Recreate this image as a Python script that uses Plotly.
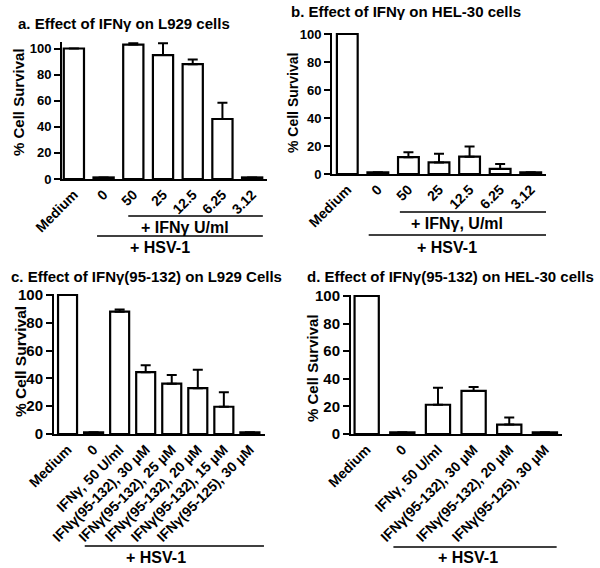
import plotly.graph_objects as go

W, H = 600, 568

# ---------------- data ----------------
cats_a = ["Medium", "0", "50", "25", "12.5", "6.25", "3.12"]
vals_a = [100, 1.2, 103, 95, 88, 46, 1.2]
err_a = [0, 0, 1, 9, 3.5, 12.5, 0]

cats_b = ["Medium", "0", "50", "25", "12.5", "6.25", "3.12"]
vals_b = [100, 1.2, 12, 8.3, 12.4, 3.6, 1.2]
err_b = [0, 0, 3.6, 6.2, 7.3, 3.5, 0]

cats_c = ["Medium", "0", "IFNγ, 50 U/ml", "IFNγ(95-132), 30 µM", "IFNγ(95-132), 25 µM",
          "IFNγ(95-132), 20 µM", "IFNγ(95-132), 15 µM", "IFNγ(95-125), 30 µM"]
vals_c = [100, 1.2, 88, 44.5, 36.2, 33, 19.6, 1.2]
err_c = [0, 0, 1.5, 5, 6.2, 13.2, 10.5, 0]

cats_d = ["Medium", "0", "IFNγ, 50 U/ml", "IFNγ(95-132), 30 µM",
          "IFNγ(95-132), 20 µM", "IFNγ(95-125), 30 µM"]
vals_d = [100, 1.2, 21.2, 31.2, 6.8, 1.2]
err_d = [0, 0, 12.4, 2.8, 5.2, 0]

titles = ["a. Effect of IFNγ on L929 cells", "b. Effect of IFNγ on HEL-30 cells",
          "c. Effect of IFNγ(95-132) on L929 Cells", "d. Effect of IFNγ(95-132) on HEL-30 cells"]
ytitle = "% Cell Survival"
yticks = [0, 20, 40, 60, 80, 100]

FONT = "Liberation Sans, Arial, sans-serif"

def px_x(p):
    return p / W

def px_y(p):
    return 1 - p / H

panels = [
    dict(c=cats_a, v=vals_a, e=err_a, xd=(62, 267), yd=(179, 42), xr=[-0.4, 6.5], yr=[0, 105], w=0.68, yt=13),
    dict(c=cats_b, v=vals_b, e=err_b, xd=(332, 546), yd=(174, 32.6), xr=[-0.5, 6.5], yr=[0, 101], w=0.68, yt=13),
    dict(c=cats_c, v=vals_c, e=err_c, xd=(54, 265), yd=(434, 293.6), xr=[-0.52, 7.58], yr=[0, 101], w=0.73, yt=15),
    dict(c=cats_d, v=vals_d, e=err_d, xd=(351, 562), yd=(434, 294.6), xr=[-0.44, 5.48], yr=[0, 101], w=0.68, yt=15),
]

fig = go.Figure()
layout = dict(width=W, height=H, margin=dict(l=0, r=0, t=0, b=0, autoexpand=False),
              paper_bgcolor="white", plot_bgcolor="white", showlegend=False,
              font=dict(family=FONT, color="black"), bargap=0.3)

for i, p in enumerate(panels):
    n = "" if i == 0 else str(i + 1)
    xa, ya = "x" + n, "y" + n
    fig.add_trace(go.Bar(
        x=list(range(len(p["c"]))), y=p["v"], xaxis=xa, yaxis=ya, width=p["w"],
        marker=dict(color="white", line=dict(color="black", width=2.2)),
        error_y=dict(type="data", array=p["e"], arrayminus=[0] * len(p["e"]), symmetric=False,
                     color="black", thickness=2, width=5),
        hoverinfo="skip",
    ))
    layout["xaxis" + n] = dict(
        domain=[px_x(p["xd"][0]), px_x(p["xd"][1])], anchor=ya, range=p["xr"],
        tickmode="array", tickvals=list(range(len(p["c"]))), ticktext=p["c"],
        tickangle=-45, ticks="", showline=True, linecolor="black", linewidth=2,
        showgrid=False, zeroline=False, automargin=False,
        tickfont=dict(family=FONT, size=14, color="black", weight="bold"),
    )
    layout["yaxis" + n] = dict(
        domain=[px_y(p["yd"][0]), px_y(p["yd"][1])], anchor=xa, range=p["yr"],
        tickmode="array", tickvals=yticks, ticks="outside", ticklen=6, tickwidth=2,
        tickcolor="black", showline=True, linecolor="black", linewidth=2,
        showgrid=False, zeroline=False, automargin=False,
        tickfont=dict(family=FONT, size=p["yt"], color="black", weight="bold"),
    )

annotations = []
shapes = []

title_pos = [(16, 23), (289, 12), (9, 276), (305, 276)]
for t, (x, y) in zip(titles, title_pos):
    annotations.append(dict(text="<b>" + t + "</b>", x=px_x(x), y=px_y(y), xref="paper", yref="paper",
                            xanchor="left", yanchor="middle", showarrow=False,
                            font=dict(family=FONT, size=15, color="black")))

ytitle_pos = [(19, 102, 15), (293, 103, 14), (20, 362, 15.5), (312, 368, 15)]
for (x, y, s) in ytitle_pos:
    annotations.append(dict(text="<b>" + ytitle + "</b>", x=px_x(x), y=px_y(y), xref="paper", yref="paper",
                            xanchor="center", yanchor="middle", showarrow=False, textangle=-90,
                            font=dict(family=FONT, size=s, color="black")))

brackets = [
    ("x", 1.83, 6.36, 216, "+ IFNγ U/ml", 3.75, 227),
    ("x", 0.78, 6.36, 236, "+ HSV-1", 2.9, 248),
    ("x2", 1.72, 6.5, 212, "+ IFNγ, U/ml", 3.6, 224),
    ("x2", 0.7, 6.5, 235, "+ HSV-1", 3.25, 247),
    ("x3", 0.66, 7.54, 546, "+ HSV-1", 3.4, 557),
    ("x4", 0.75, 5.33, 547, "+ HSV-1", 2.85, 557),
]
for xa, x0, x1, ly, txt, tx, ty in brackets:
    shapes.append(dict(type="line", xref=xa, yref="paper", x0=x0, x1=x1, y0=px_y(ly), y1=px_y(ly),
                       line=dict(color="black", width=1.5)))
    annotations.append(dict(text="<b>" + txt + "</b>", x=tx, y=px_y(ty), xref=xa, yref="paper",
                            xanchor="center", yanchor="middle", showarrow=False,
                            font=dict(family=FONT, size=16, color="black")))

layout["annotations"] = annotations
layout["shapes"] = shapes
fig.update_layout(**layout)
fig.write_html("out.html", config={"displayModeBar": False},
               post_script="document.body.style.margin='0px';")
